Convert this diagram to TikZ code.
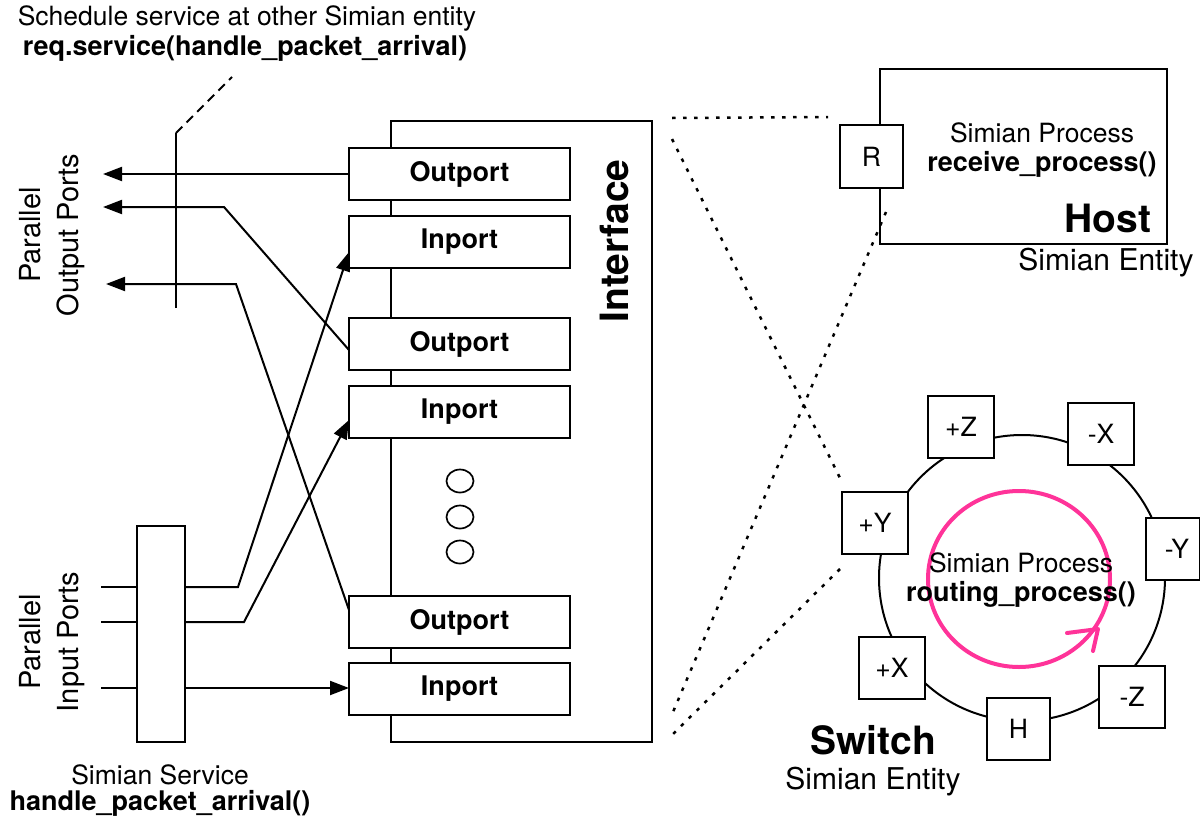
\documentclass[tikz,border=0pt]{standalone}
\usepackage{fontspec}
\setmainfont{TeX Gyre Heros}
\usetikzlibrary{arrows.meta,shapes.geometric}
\definecolor{pinkc}{RGB}{255,51,153}
\begin{document}
\begin{tikzpicture}[x=1pt,y=-1pt,
  every node/.style={font=\fontsize{26.5}{30}\selectfont, inner sep=0pt, outer sep=0pt},
  ln/.style={line width=2pt},
  boldtxt/.style={font=\fontsize{27}{30}\selectfont\bfseries},
  bigbold/.style={font=\fontsize{39}{45}\selectfont\bfseries},
  entitytxt/.style={font=\fontsize{30}{34}\selectfont},
  rotlbl/.style={rotate=90, align=center, font=\fontsize{29}{38}\selectfont},
  port/.style={draw, line width=2pt, fill=white, minimum width=221pt, minimum height=52pt, font=\fontsize{27}{30}\selectfont\bfseries},
  sq/.style={draw, line width=2pt, fill=white, minimum width=66pt, minimum height=62pt},
  dotbox/.style={draw, ellipse, line width=1.7pt, minimum width=27pt, minimum height=23pt},
  tri/.style={-{Triangle[length=19pt,width=14pt]}},
  dotl/.style={line width=2.5pt, dash pattern=on 3.5pt off 7.5pt},
  dashl/.style={line width=2pt, dash pattern=on 9pt off 6pt}
]
\useasboundingbox (0,0) rectangle (1200,822);
\fill[white] (0,0) rectangle (1200,822);

% ---------- top text ----------
\node (t1) at (247,18) {Schedule service at other Simian entity};
\node[boldtxt] (t2) at (245,48) {req.service(handle\_packet\_arrival)};

% ---------- interface ----------
\node[draw, ln, minimum width=261pt, minimum height=621pt] (iface) at (521.5,431.5) {};
\node[rotlbl, bigbold] (ifl) at (614,241) {Interface};

\node[port] (o1) at (459.5,174) {Outport};
\node[port] (i1) at (459.5,242) {Inport};
\node[port] (o2) at (459.5,344) {Outport};
\node[port] (i2) at (459.5,412) {Inport};
\node[port] (o3) at (459.5,622) {Outport};
\node[port] (i3) at (459.5,689) {Inport};

\node[dotbox] (e1) at (460,481) {};
\node[dotbox] (e2) at (460,517) {};
\node[dotbox] (e3) at (460,552) {};

% ---------- simian service ----------
\node[draw, ln, fill=white, minimum width=48pt, minimum height=216pt] (svc) at (161,634) {};
\node (ss1) at (160,775) {Simian Service};
\node[boldtxt] (ss2) at (160,803) {handle\_packet\_arrival()};

\node[rotlbl] (pop) at (52,235) {Parallel\\Output Ports};
\node[rotlbl] (pip) at (52,642) {Parallel\\Input Ports};

% input lines
\coordinate (ip1) at (101,587);
\coordinate (ip2) at (101,622);
\coordinate (ip3) at (101,688);
\coordinate (b1) at (238,587);
\coordinate (b2) at (244,622);
\draw[ln] (ip1) -- (svc.west |- ip1);
\draw[ln] (ip2) -- (svc.west |- ip2);
\draw[ln] (ip3) -- (svc.west |- ip3);
\draw[ln,tri] (svc.east |- ip1) -- (b1) -- ([yshift=-10pt]i1.west);
\draw[ln,tri] (svc.east |- ip2) -- (b2) -- ([yshift=-8pt]i2.west);
\draw[ln,tri] (svc.east |- ip3) -- (i3.west |- ip3);

% output lines
\coordinate (op1) at (103,174);
\coordinate (op2) at (103,207);
\coordinate (op3) at (106,284);
\coordinate (c2) at (224,207);
\coordinate (c3) at (236,284);
\draw[ln,tri] (o1.west) -- (op1);
\draw[ln,tri] ([yshift=-6pt]o2.west) -- (c2) -- (op2);
\draw[ln,tri] ([yshift=12pt]o3.west) -- (c3) -- (op3);

% schedule line
\coordinate (vt) at (176,133);
\coordinate (vb) at (176,308);
\coordinate (dt) at (232,77);
\draw[ln] (vb) -- (vt);
\draw[dashl] (vt) -- (dt);

% ---------- host ----------
\node[draw, ln, minimum width=287pt, minimum height=175pt] (host) at (1023.5,156.5) {};
\node[sq, minimum width=63pt, minimum height=63pt] (R) at (871.5,156.5) {R};
\node (hp1) at (1042,133) {Simian Process};
\node[boldtxt] (hp2) at (1042,164) {receive\_process()};
\node[bigbold, anchor=east] (hl) at (1151,218) {Host};
\node[entitytxt] (he) at (1106,263) {Simian Entity};

% ---------- switch ----------
\node[draw, circle, ln, minimum size=286pt] (sw) at (1022,578) {};
\draw[pinkc, line width=4pt] (1019,579) ellipse [x radius=91, y radius=88];
\draw[pinkc, line width=4pt, line cap=round, line join=round] (1067,633) -- (1098,629) -- (1093,651);

\node[sq] (pz) at (961,427) {+Z};
\node[sq] (mx) at (1101,434) {-X};
\node[sq] (py) at (875,523) {+Y};
\node[sq, minimum width=54pt] (my) at (1173,549) {\hspace*{8pt}-Y};
\node[sq] (px) at (892,668) {+X};
\node[sq] (mz) at (1132,697) {-Z};
\node[sq, minimum width=63pt] (hh) at (1018.5,729) {H};

\node (sp1) at (1021,563) {Simian Process};
\node[boldtxt] (sp2) at (1021,594) {routing\_process()};
\node[bigbold] (swl) at (873,740) {Switch};
\node[entitytxt] (swe) at (873,782) {Simian Entity};

% ---------- dotted zoom lines ----------
\coordinate (d1a) at (672,118);
\coordinate (d1b) at (828,117);
\coordinate (d2a) at (672,139);
\coordinate (d2b) at (840,478);
\coordinate (d3a) at (886,212);
\coordinate (d3b) at (673,712);
\coordinate (d4a) at (840,569);
\coordinate (d4b) at (673,734);
\draw[dotl] (d1a) -- (d1b);
\draw[dotl] (d2a) -- (d2b);
\draw[dotl] (d3a) -- (d3b);
\draw[dotl] (d4a) -- (d4b);
\end{tikzpicture}
\end{document}
